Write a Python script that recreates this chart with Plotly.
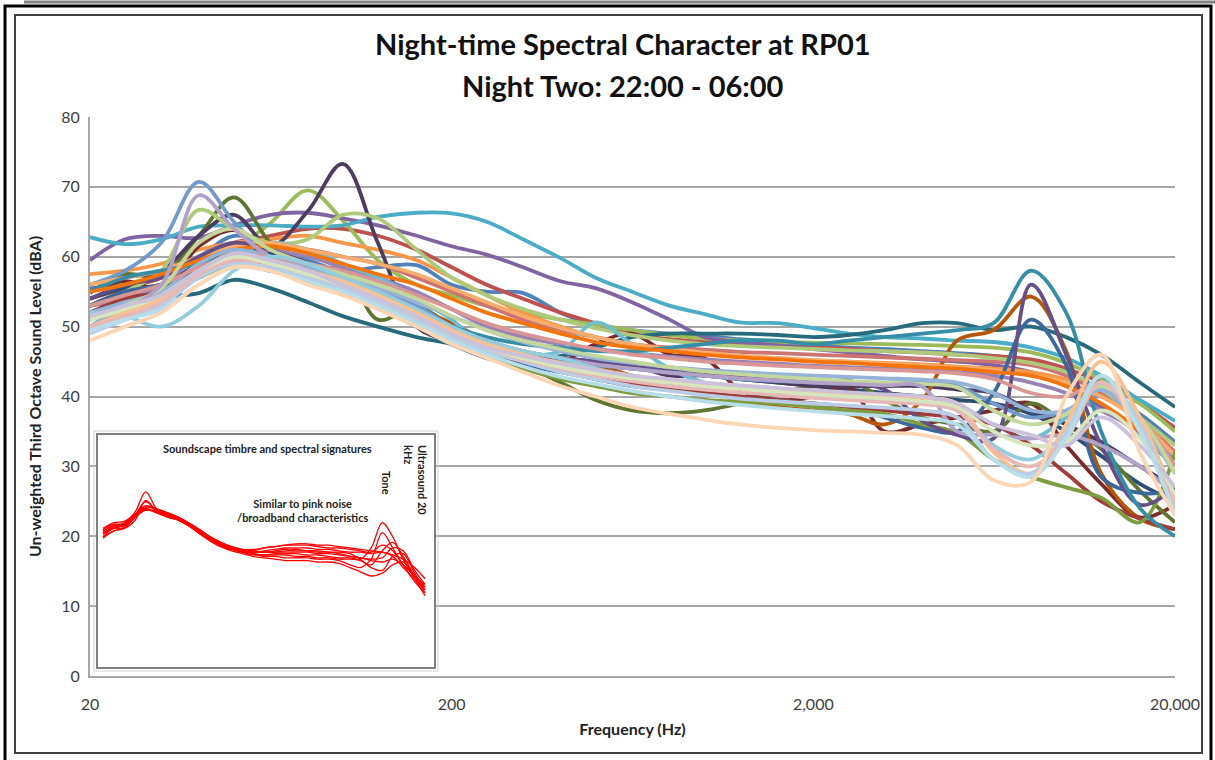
import math
import plotly.graph_objects as go

# Third-octave band centre frequencies (Hz)
freqs = [20, 25, 31.5, 40, 50, 63, 80, 100, 125, 160, 200, 250, 315, 400, 500, 630, 800,
         1000, 1250, 1600, 2000, 2500, 3150, 4000, 5000, 6300, 8000, 10000, 12500, 16000, 20000]

# Main chart series (dB), one list per measurement period
s01 = [55.5,56,57.5,60,63,61.5,59.5,58,58.5,58.8,56,55,54.8,52,50.2,49.5,49,48.7,48.2,47.8,47.3,47,46.8,46.5,46.2,45.8,45,43.5,41,37.5,33.5]
s02 = [54,55.5,57,60,62,63,64,64,63,61,58.5,56,54,52,50.5,49,48.2,47.8,47.5,47.2,47,46.8,46.5,46.3,46,45.8,45.3,44,42,39,35.5]
s03 = [53,54,55.5,58,61,64.8,69.5,65.2,59.5,56,54.5,53,52,51,50.3,49.5,48.8,48.3,48,47.8,47.7,47.6,47.5,47.4,47.2,47,46.3,44.8,42.5,39,35]
s04 = [59.5,62.5,63,62.7,64.5,66,66.3,65.5,64.5,63,61.5,60.3,58.5,56.5,55.5,53.5,51,48.5,47.8,47.3,46.8,46.3,45.8,45.3,45,44.5,43.5,41.5,38.5,34.5,30]
s05 = [62.8,61.8,62.5,64.3,64.5,64.5,64.3,64.5,65.7,66.3,66.2,65,62.5,59.8,57,55,53,51.8,50.6,50.5,49.8,49,48.5,48.3,48,47.8,47,45.5,43,39.5,36.5]
s06 = [57.5,58,59,61,62,62.5,63,62,61,59.5,57,54.5,52,50,48.5,47.5,46.8,46.3,45.8,45.5,45.2,45,44.8,44.6,44.3,44,43.5,42.5,41,37,32]
s07 = [54,55.5,56,59,61,60.5,59,57,55,52,49.5,47.5,46,45,44.5,44,43.5,43,42.5,42,41.5,41,40.5,40,39.5,39,37.5,35,31.5,27.5,25]
s08 = [55,56.5,55.5,61.5,63.8,61,59,56,53,50,48,46.5,45.5,45,47.5,49,46,45.5,41,39.5,40,41.3,35,36,37,38,39,33,27.5,22.7,24.5]
s09 = [54.8,57.5,57.2,63,68.5,62,57.5,58.5,51,52.8,50,46.5,44.5,42,39.5,38,37.6,38,39,40.5,41.5,42.3,39.5,37,36,35,39,36,32.5,26.5,22]
s10 = [55,57,58,63,66,61.5,66.5,73.3,62,50,48,47,46,45.5,45,44.5,43,43,42.5,42,41.5,41.5,41.5,41.5,41,40.5,38,36,33.5,30,27]
s11 = [51,52.8,54.2,54.8,56.7,55.5,53.5,51.5,50,48.5,47.5,46,45.2,45.8,47,48.5,49,49,49,48.8,48.5,48.8,49.5,50.5,50.5,49.5,50,48.5,46,42,38.5]
s12 = [53,55,56,58,59,58,57,55.5,54,52.5,50.5,48,46.5,45.5,44.5,43,42,40.5,39.5,38.5,38,37.5,36,39.5,48,49.5,54.3,46.5,29,22.5,21]
s13 = [56,58,62,70.7,65,60,58,56.5,55,53,50,47.5,46,45,44.5,44,43.5,43,42.5,42.2,42,42,42,42,41.5,39,37,38,40,36,29]
s14 = [52,53.5,55,58,60,61,61,60,59,57,55,53,51,49.5,48.5,47.5,47,46.7,46.4,46.2,46,45.8,45.6,45.4,45.2,45,44.5,43,40.5,36.5,32]
s15 = [53,55,58,66.7,64,62,62.5,66,65.5,61,57,54.5,52.5,51,49.8,48.8,48,47.5,47.2,47,46.8,46.6,46.5,46.3,46,45.5,44.8,43.5,41,37,33]
s16 = [53,54,56,60,62,61,60,58.5,57,55,52.5,50,48.5,47.5,46.8,46.2,45.7,45.3,45,44.7,44.4,44.2,44,43.8,43.5,43,42,40.5,38,35,31]
s17 = [50,53,55,57,60,62,61,59,57,54,51,47,46,46.5,50.6,47.5,44,42,41.5,40.8,40.3,40,39.5,39,38.5,36,34,37,41,35,26]
s18 = [56,57,58,60,61.5,62,61,60,59,57.5,55.5,53.5,51.5,49.8,48.5,47.5,46.8,46.3,45.8,45.5,45.2,45,44.7,44.5,44.2,43.8,43,42,40,36.5,31.5]
s19 = [53,55,56,58,59,58.5,57,55,53,50,47.5,45.5,44.5,43.5,42.5,41.5,41,40.5,40,39.5,39,38.5,37,35.5,35,40.5,51,44.5,28.5,26.2,26.5]
s20 = [52,54,55,57.5,59.5,59,58,56.5,54,51,48.5,46.5,45,44,43,42,41,40.5,40,39.5,39,38.5,38,37.5,37,36,33,29,25,22.5,21]
s21 = [51,53,54.5,57,59,58,56.5,55,53,50.5,48,46,44,42.5,41.5,40.5,40,39.5,39.2,39,38.5,38,37.5,36,34.8,31,28.5,27,25.5,22,32]
s22 = [54,56,57,60,62,61,59,57,54.5,51,48.5,47,46,45.5,45,44.5,44,43.5,43,42.5,42,42,41,36.5,34.5,34,56,46,33,24.5,27]
s23 = [55,57,58,59,60,59,58,56.5,54.5,52,50,48.5,47.5,47,46.5,46.5,47,47.5,48,48,47.5,48,48.5,49,49.5,50.5,58,52,35,24,20]
s24 = [55,56,57.5,59.5,61,61.5,60.5,59,57.5,56,54,52,50.5,49,47.8,47,46.5,46,45.6,45.3,45,44.8,44.5,44.2,44,43.5,43,41.5,39,35,30]
s25 = [52,53.5,55,59,61,60,58.5,57,55.5,53.5,51.5,49.5,47.8,46.5,45.5,44.8,44.2,43.8,43.5,43.2,43,42.8,42.6,42.4,42,40.5,38,38,41,36,29]
s26 = [53,54.5,56,58.5,60,60,59,58,56.5,54.5,52.5,50.5,49,47.8,46.8,46,45.5,45,44.7,44.4,44.2,44,43.8,43.6,43.3,42.5,40.5,40,42,37,30]
s27 = [51,53,55.5,62,64,61,59,57.5,56,54,51.5,49.5,48,46.8,45.8,45,44.2,43.6,43.2,42.8,42.5,42.2,42,41.8,41.3,38,36,37.5,41.5,37,29]
s28 = [50,52.5,56,68.8,64,60,58,56.5,55,52.5,50,48,46.5,45.5,44.6,44,43.4,43,42.6,42.3,42,41.8,41.6,41.4,35,34.5,34,34.5,33,30,26]
s29 = [52,51.5,50,53,58,60,59,57,55,52.5,50,48,46.5,45.5,44,43,42.3,41.8,41.3,40.8,40.3,40,39.5,39,38,33,31,35,42,36,25]
s30 = [50,52,54,58,60,59.5,58,56.5,54.5,52,49.5,47.5,46,44.8,43.8,43,42.3,41.8,41.4,41,40.7,40.4,40.1,39.8,39,32,29,36,45,37,25]
s31 = [49,51,53,57,59,58.5,57,55.5,53.5,51,48.5,46.5,45,43.5,42.5,41.5,40.8,40.2,39.7,39.3,39,38.7,38.4,38,37,31,29,35,43,36,24]
s32 = [50,51.5,53.5,57.5,59.5,59,57.5,56,54,51.5,49,47,45.3,44,43,42.2,41.5,41,40.6,40.2,39.8,39.5,39.2,38.9,38,32.5,30,34,42,35,24]
s33 = [51,52.5,54.5,58,60,59,57.5,56,54,51.5,49,47,45.5,44.2,43.3,42.6,42,41.5,41.1,40.7,40.3,40,39.7,39.3,38.5,35,33,33.5,38,34,26]
s34 = [51.5,53,54.5,58,60.5,59.5,58,56,54,51.5,49,47,45.8,44.7,43.8,43,42.5,42,41.6,41.2,40.9,40.6,40.3,40,39,36,34.5,33,37,33,27]
s35 = [49.5,51,52.5,56,58.5,58,56.5,55,53,50.5,48,46,44.3,42.8,41.8,40.8,40,39.3,38.8,38.3,37.9,37.5,37.2,36.8,36,31,28.5,34,43,35,23]
s36 = [48,50,52,56,58.5,58,56,54.5,52.5,50,47.5,45.5,43.5,41.5,40,38.5,37.5,36.7,36,35.5,35.2,35,34.8,34.5,33,28,27.8,40,46,32,23]

series = [s01, s02, s03, s04, s05, s06, s07, s08, s09, s10, s11, s12, s13, s14, s15, s16, s17, s18,
          s19, s20, s21, s22, s23, s24, s25, s26, s27, s28, s29, s30, s31, s32, s33, s34, s35, s36]
colors = ["#4F81BD", "#C0504D", "#9BBB59", "#8064A2", "#4BACC6", "#F79646",
          "#2C4D75", "#772C2A", "#5F7530", "#4D3B62", "#276A7C", "#B65708",
          "#729ACA", "#CD7371", "#AFC97A", "#9983B5", "#6FBDD1", "#F9AB6B",
          "#3A679C", "#9F3B38", "#7E9D40", "#664F86", "#358EA6", "#F3740B",
          "#95B3D7", "#D99694", "#C3D69B", "#B2A1C7", "#93CDDD", "#FAC090",
          "#B9CDE5", "#E6B9B8", "#D7E4BD", "#CCC1DA", "#B7DEE8", "#FCD5B5"]

# Inset (soundscape signature) series
i01 = [44,47,47,50,57,53,51,50,48,45,42.5,41,40,39,38.5,39,39.5,40,40,40,39.5,39.5,39,38.5,38.5,38,38.5,37,33,29,25]
i02 = [46,48,49,53,60,54,51,50.5,48.5,46,43,41.5,40,39,39,40,40.5,41,41,41,40.5,40,40,39.5,39,38.5,41,39,34,30,26]
i03 = [45,47.5,48,52,55,53.5,52,50,48,45.5,43,41,39.5,38.5,37.5,37.5,38,38,38,37.5,37.5,37,36.5,36.5,36,40,49,44,36,30,27]
i04 = [47,49,49.5,52,54,53,52,50.5,48.5,46,43.5,41.5,40,39,38,37,37,36.5,36.5,36.5,36,36,35.5,34,33,36,45.5,40,34,28,24]
i05 = [44,46,47.5,51,53.5,53,52.5,51,49,46,43.5,41.5,40,39,38.5,38.5,38.5,39,39,39,39,38.5,38.5,38,36,33,32,37,38,31,25]
i06 = [45.5,47,48.5,52,54.5,54,52.5,51,48.5,45.5,42.5,40.5,39,38,37,36.5,36,35.5,35.5,35.5,35,35,34.5,33,31.5,30,31,34,35,29,23]
i07 = [46,48,48.5,51.5,53.5,53,52,50.5,49,46.5,44,42,40.5,39.5,39.5,40,40.5,41,41.5,41.5,41,41,40.5,40,39.5,39,38.5,37.5,36,33,29]
i08 = [43.5,46,47,51,54,52.5,51,50,48,45,42.5,40.5,39.5,38.5,38,37.5,37.5,37.5,37,37,36.5,36.5,36,36,35.5,34,39,42,37,30,24]
i09 = [45,47,48,52,56.5,53.5,51.5,50,48,45.5,43,41,40,39,38.5,38.5,39,39.5,39.5,39,38.5,38.5,38,37,36.5,36,36.5,40,39,32,27]
i10 = [46.5,48.5,48.5,52,55,54,52.5,51,49,46.5,44,42,40.5,39.5,39,38.5,38.5,38.5,38.5,38.5,38,38,37.5,37,36.5,35.5,35,36,34,30,26]
inset_series = [i01, i02, i03, i04, i05, i06, i07, i08, i09, i10]

y_ticks = [0, 10, 20, 30, 40, 50, 60, 70, 80]
x_ticks = [20, 200, 2000, 20000]
x_ticktext = ["20", "200", "2,000", "20,000"]

W, H = 1215, 760
ML, MR, MT, MB = 90, 40, 117, 84
PW, PH = W - ML - MR, H - MT - MB


def px(x):
    return (x - ML) / PW


def py(y):
    return (H - MB - y) / PH


FONT = "Lato, 'Open Sans', sans-serif"
fig = go.Figure()

for vals, col in zip(series, colors):
    fig.add_trace(go.Scatter(x=freqs, y=vals, mode="lines",
                             line=dict(color=col, width=3.8, shape="spline", smoothing=1.0),
                             xaxis="x", yaxis="y", showlegend=False, hoverinfo="skip"))

for vals in inset_series:
    fig.add_trace(go.Scatter(x=freqs, y=vals, mode="lines",
                             line=dict(color="#FF0000", width=1.3, shape="spline", smoothing=1.0),
                             xaxis="x2", yaxis="y2", showlegend=False, hoverinfo="skip"))

fig.update_layout(
    width=W, height=H,
    margin=dict(l=ML, r=MR, t=MT, b=MB),
    paper_bgcolor="white", plot_bgcolor="white",
    font=dict(family=FONT, color="#404040"),
    xaxis=dict(type="log", range=[math.log10(20), math.log10(20000)],
               tickvals=x_ticks, ticktext=x_ticktext, showgrid=False,
               showline=True, linecolor="#A6A6A6", linewidth=2, ticks="",
               tickfont=dict(size=16, color="#404040"), ticklabelstandoff=13,
               zeroline=False,
               title=dict(text="<b>Frequency (Hz)</b>", font=dict(size=16, color="#222"), standoff=12)),
    yaxis=dict(range=[0, 80], tickvals=y_ticks, showgrid=True, gridcolor="#A6A6A6",
               gridwidth=1.6, showline=True, linecolor="#A6A6A6", linewidth=2,
               ticks="", zeroline=False, tickfont=dict(size=16, color="#404040"),
               ticklabelstandoff=5,
               title=dict(text="<b>Un-weighted Third Octave Sound Level (dBA)</b>",
                          font=dict(size=16, color="#222"), standoff=16)),
    xaxis2=dict(type="log", domain=[px(97), px(435)],
                range=[math.log10(20) - 0.056, math.log10(20000) + 0.093],
                anchor="y2", showgrid=False, showticklabels=False, showline=False,
                zeroline=False, ticks=""),
    yaxis2=dict(domain=[py(668), py(434)], range=[-2.86, 80.7], anchor="x2",
                showgrid=False, showticklabels=False, showline=False, zeroline=False, ticks=""),
)

shapes = []
# inset box border
shapes.append(dict(type="rect", xref="paper", yref="paper", x0=px(97), x1=px(435), y0=py(668), y1=py(434),
                   line=dict(color="#7F7F7F", width=2)))
shapes.append(dict(type="rect", xref="paper", yref="paper", x0=px(94), x1=px(438), y0=py(671), y1=py(431),
                   line=dict(color="#D0D0D0", width=1)))
# outer frames
shapes.append(dict(type="rect", xref="paper", yref="paper", x0=px(5), x1=px(1211), y0=py(770), y1=py(6),
                   line=dict(color="black", width=3)))
shapes.append(dict(type="rect", xref="paper", yref="paper", x0=px(15), x1=px(1202), y0=py(753), y1=py(15),
                   line=dict(color="#404040", width=2)))
shapes.append(dict(type="line", xref="paper", yref="paper", x0=px(24), x1=px(1215), y0=py(2), y1=py(2),
                   line=dict(color="#808080", width=3)))
fig.update_layout(shapes=shapes)

def note(text, x, y, size, angle=0, align="center", color="#222"):
    return dict(text=text, x=px(x), y=py(y), xref="paper", yref="paper", showarrow=False,
                xanchor="center", yanchor="middle", textangle=angle, align=align,
                font=dict(size=size, color=color))

ann = [
    note("<b>Night-time Spectral Character at RP01</b>", 623, 43, 29, color="#111"),
    note("<b>Night Two: 22:00 - 06:00</b>", 623, 85, 29, color="#111"),
    note("<b>Soundscape timbre and spectral signatures</b>", 267, 448, 11),
    note("<b>Similar to pink noise<br>/broadband characteristics</b>", 302, 510, 11),
    note("<b>Tone</b>", 387, 483, 11, angle=90),
    note("<b>Ultrasound 20<br>kHz</b>", 415, 480, 11, angle=90, align="left"),
]
fig.update_layout(annotations=ann)

fig.write_html("out.html")
